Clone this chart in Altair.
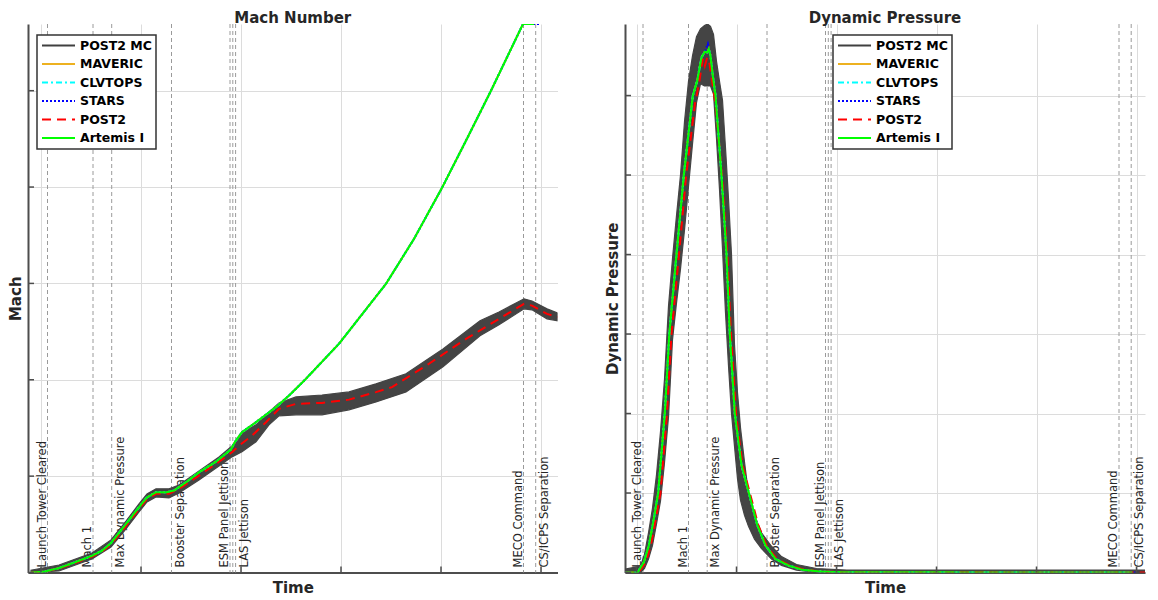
import altair as alt
import pandas as pd

FONT = "DejaVu Sans"
INK = "#262626"
AXIS_COL = "#4d4d4d"
GRID_COL = "#dcdcdc"
EVENT_COL = "#9a9a9a"
MC_COL = "#444444"

# ---------------- legend series ----------------
SERIES = ["POST2 MC", "MAVERIC", "CLVTOPS", "STARS", "POST2", "Artemis I"]
SERIES_COLORS = ["#404040", "#EDB120", "#00FFFF", "#0000FF", "#FF0000", "#00FF00"]
SERIES_DASH = [[1, 0], [1, 0], [6, 3, 2, 3], [2, 2], [9, 6], [1, 0]]
SERIES_WIDTH = [2, 2, 2, 2, 2.5, 2.5]

# ---------------- events ----------------
EVENT_NAMES = ["Launch Tower Cleared", "Mach 1", "Max Dynamic Pressure", "Booster Separation",
               "ESM Panel Jettison", "", "LAS Jettison", "MECO Command", "CS/ICPS Separation"]
EVENT_T = [6.5, 52, 70.7, 130.5, 189, 191.8, 194.6, 482.5, 494.7]
LABELS_LEFT = ["Launch Tower Cleared", "Mach 1", "ESM Panel Jettison", "MECO Command"]
LABELS_RIGHT = ["Max Dynamic Pressure", "Booster Separation", "LAS Jettison", "CS/ICPS Separation"]

X_GRID = [0, 100, 200, 300, 400, 500]

# ---------------- Mach number ----------------
MACH_Y_GRID = [0, 5, 10, 15, 20, 25]
MACH_ART_T = [-10, 3, 18, 38, 51, 61, 70, 85, 98, 106, 115, 125, 133, 145, 158, 175, 190, 194, 201, 215,
              235, 248, 264, 298, 345, 373, 401, 426, 450, 482, 493]
MACH_ART = [0.0, 0.04, 0.23, 0.61, 0.87, 1.13, 1.53, 2.52, 3.39, 3.90, 4.16, 4.16, 4.25, 4.68, 5.20, 5.75,
            6.39, 6.78, 7.28, 7.80, 8.58, 9.18, 10.0, 11.87, 14.98, 17.31, 19.96, 22.51, 25.0, 28.46, 28.46]
MACH_STARS_T = [-10, 3, 18, 38, 51, 61, 70, 85, 98, 106, 115, 125, 133, 145, 158, 175, 190, 194, 201, 215,
                235, 248, 264, 298, 345, 373, 401, 426, 450, 482, 498]
MACH_STARS = [0.0, 0.04, 0.23, 0.61, 0.87, 1.13, 1.53, 2.52, 3.39, 3.90, 4.16, 4.16, 4.25, 4.68, 5.20, 5.75,
              6.39, 6.78, 7.28, 7.80, 8.58, 9.18, 10.0, 11.87, 14.98, 17.31, 19.96, 22.51, 25.0, 28.46, 28.46]
MACH_POST2_T = [-10, 3, 18, 38, 51, 61, 70, 85, 98, 106, 115, 128, 138, 158, 178, 191, 198, 211, 225, 238,
                255, 281, 308, 335, 351, 388, 425, 458, 483, 491, 506, 516.5]
MACH_POST2 = [0.01, 0.04, 0.21, 0.57, 0.83, 1.09, 1.45, 2.41, 3.30, 3.82, 4.08, 4.08, 4.34, 5.03, 5.75, 6.24,
              6.58, 7.10, 7.80, 8.49, 8.75, 8.80, 8.97, 9.36, 9.62, 10.83, 12.12, 13.16, 13.94, 13.85, 13.42, 13.25]
MACH_MC_T = [-10, 18, 51, 70, 85, 98, 106, 115, 128, 138, 158, 178, 191, 201, 215, 228, 238, 255, 281, 308,
             335, 365, 402, 439, 458, 483, 491, 506, 516.5]
MACH_MC_LO = [0.0, 0.08, 0.70, 1.32, 2.26, 3.14, 3.66, 3.92, 3.87, 4.13, 4.80, 5.53, 6.00, 6.26, 6.78, 7.66,
              8.13, 8.18, 8.18, 8.44, 8.85, 9.37, 10.67, 12.28, 12.85, 13.68, 13.63, 13.16, 13.06]
MACH_MC_HI = [0.12, 0.39, 1.01, 1.69, 2.67, 3.56, 4.08, 4.34, 4.34, 4.54, 5.27, 5.99, 6.57, 7.24, 7.66, 8.33,
              8.80, 9.11, 9.21, 9.37, 9.79, 10.31, 11.60, 13.06, 13.52, 14.20, 14.09, 13.68, 13.47]

# ---------------- Dynamic pressure ----------------
Q_Y_GRID = [0, 100, 200, 300, 400, 500, 600]
Q_ART_T = [-11, 1, 7.3, 12.3, 17.3, 21.7, 28.3, 32.8, 40, 47.3, 56.3, 60.7, 65, 68.3, 70.7, 72.3, 74, 76.3, 79, 85,
           90, 93.3, 98.3, 105, 113, 120.7, 129, 139, 152.3, 165.7, 185.7, 212.3, 495.7]
Q_ART = [0, 0, 12.8, 33.7, 67.3, 100.4, 200.3, 300, 400.3, 500, 599.8, 618.6, 648.1, 655.1, 654.3, 658.5, 650.1,
         624.9, 599.8, 500, 400.3, 300, 200, 135, 97, 60, 34, 17, 8.6, 3.5, 1.0, 0.25, 0]
Q_STARS_T = [-11, 1, 7.3, 12.3, 17.3, 21.7, 28.3, 32.8, 40, 47.3, 56.3, 60.7, 65, 68.3, 71.3, 72.3, 74, 76.3, 79, 85,
             90, 93.3, 98.3, 105, 113, 120.7, 129, 139, 152.3, 165.7, 185.7, 212.3, 499]
Q_STARS = [0, 0, 12.8, 33.7, 67.3, 100.4, 200.3, 300, 400.3, 500, 599.8, 618.6, 648.1, 655.1, 665, 658.5, 650.1,
           624.9, 599.8, 500, 400.3, 300, 200, 135, 97, 60, 34, 17, 8.6, 3.5, 1.0, 0.25, 0]
Q_POST2_T = [-11, 2, 9.3, 14.3, 19.3, 24, 30.5, 35, 42.5, 49.7, 58.5, 62.5, 66.3, 68.3, 70.7, 73, 76, 79.5, 86, 91,
             94.5, 99.5, 106, 114, 121.7, 130, 140, 153, 167, 187, 213, 518]
Q_POST2 = [0, 0, 12.8, 33.7, 67.3, 100, 200, 300, 400, 500, 590, 615, 646, 637, 648, 640, 615, 585, 490, 395,
           300, 200, 135, 97, 60, 34, 17.5, 9, 3.7, 1.1, 0.3, 0]
Q_MC_T = [-12, 4, 8, 12, 16, 20, 24, 28, 32, 36, 40, 44, 48, 52, 56, 60, 64, 68, 71, 74,
          77, 80, 83, 86, 89, 92, 95, 98, 101, 104, 108, 112, 118, 125, 135, 145, 160, 180, 210, 518]
Q_MC_HI = [4, 8, 23, 50, 81, 123, 177, 243, 335, 395, 449, 500, 567, 618, 650, 674, 684, 688, 690, 687,
           677, 643, 618, 594, 534, 470, 400, 286, 226, 182, 139, 99, 72, 50, 33, 20, 10, 5, 3, 3]
Q_MC_LO = [0, 0, 5, 17, 34, 61, 90, 138, 196, 293, 339, 382, 431, 486, 539, 591, 615, 612, 612, 612,
           602, 546, 482, 407, 327, 260, 200, 159, 118, 91, 72, 58, 42, 30, 17, 9, 3, 0, 0, 0]

H = 548.5
DRAW_ORDER = ["MAVERIC", "CLVTOPS", "STARS", "POST2", "Artemis I"]


def series_df(parts):
    rows = []
    for name, ts, vs in parts:
        for t, v in zip(ts, vs):
            rows.append({"series": name, "t": t, "v": v})
    return pd.DataFrame(rows)


def panel(title, ytitle, lines, band, xdom, ydom, ygrid, legend_x, width):
    xs = alt.Scale(domain=xdom, nice=False, zero=False)
    ys = alt.Scale(domain=ydom, nice=False, zero=False)
    xaxis = alt.Axis(title="Time", values=X_GRID, labels=False, ticks=False, grid=True,
                     gridColor=GRID_COL, gridWidth=1, domainColor=AXIS_COL, domainWidth=2,
                     titlePadding=8, titleFont=FONT, titleFontSize=15, titleFontWeight="bold",
                     titleColor=INK, minExtent=0)
    yaxis = alt.Axis(title=ytitle, values=ygrid, labels=False, ticks=False, grid=True,
                     gridColor=GRID_COL, gridWidth=1, domainColor=AXIS_COL, domainWidth=2,
                     titlePadding=4.5, titleFont=FONT, titleFontSize=15, titleFontWeight="bold",
                     titleColor=INK, minExtent=0)

    def X(f):
        return alt.X(f, type="quantitative", scale=xs, axis=xaxis)

    def Y(f):
        return alt.Y(f, type="quantitative", scale=ys, axis=yaxis)

    ev = pd.DataFrame({"name": EVENT_NAMES, "t": EVENT_T})
    rules = alt.Chart(ev).mark_rule(color=EVENT_COL, strokeWidth=1, strokeDash=[4, 3]).encode(x=X("t"))
    ydat = alt.YDatum(0, scale=ys, axis=yaxis)
    lab_l = alt.Chart(ev[ev["name"].isin(LABELS_LEFT)]).mark_text(
        angle=270, align="left", baseline="bottom", dx=5, font=FONT, fontSize=11.5, color=INK
    ).encode(x=X("t"), y=ydat, text="name:N")
    lab_r = alt.Chart(ev[ev["name"].isin(LABELS_RIGHT)]).mark_text(
        angle=270, align="left", baseline="top", dx=5, dy=3, font=FONT, fontSize=11.5, color=INK
    ).encode(x=X("t"), y=ydat, text="name:N")

    band_layer = alt.Chart(band).mark_area(fill=MC_COL, stroke=MC_COL, strokeWidth=1.2, clip=True).encode(
        x=X("t"), y=Y("lo"), y2=alt.Y2("hi"))

    leg = alt.Legend(title=None, orient="none", legendX=legend_x, legendY=11,
                     symbolType="M-1,0H5", symbolSize=121, symbolStrokeWidth=2,
                     labelFont=FONT, labelFontSize=12.5, labelFontWeight="bold", labelColor="black",
                     labelOffset=26, padding=4, rowPadding=5.5, strokeColor="#333333",
                     fillColor="white", cornerRadius=0, labelLimit=0)
    line_layers = []
    for name in DRAW_ORDER:
        line_layers.append(
            alt.Chart(lines[lines["series"] == name]).mark_line(clip=True).encode(
                x=X("t"), y=Y("v"),
                color=alt.Color("series:N", scale=alt.Scale(domain=SERIES, range=SERIES_COLORS), legend=leg),
                strokeDash=alt.StrokeDash("series:N", scale=alt.Scale(domain=SERIES, range=SERIES_DASH), legend=leg),
                strokeWidth=alt.StrokeWidth("series:N", scale=alt.Scale(domain=SERIES, range=SERIES_WIDTH), legend=None),
            )
        )

    xt = alt.Chart(pd.DataFrame({"t": X_GRID})).mark_rule(color=AXIS_COL, strokeWidth=1.5).encode(
        x=X("t"), y=alt.value(H), y2=alt.value(H - 6))
    yt = alt.Chart(pd.DataFrame({"v": ygrid})).mark_rule(color=AXIS_COL, strokeWidth=1.5).encode(
        y=Y("v"), x=alt.value(0), x2=alt.value(6))

    return alt.layer(rules, lab_l, lab_r, band_layer, *line_layers, xt, yt).properties(
        width=width, height=H,
        title=alt.TitleParams(title, font=FONT, fontSize=15, fontWeight="bold", color=INK,
                              anchor="middle", frame="group", offset=-2.5))


mach_lines = series_df([
    ("MAVERIC", MACH_ART_T, MACH_ART),
    ("CLVTOPS", MACH_ART_T, MACH_ART),
    ("STARS", MACH_STARS_T, MACH_STARS),
    ("POST2", MACH_POST2_T, MACH_POST2),
    ("Artemis I", MACH_ART_T, MACH_ART),
])
mach_band = pd.DataFrame({"t": MACH_MC_T, "lo": MACH_MC_LO, "hi": MACH_MC_HI})

q_lines = series_df([
    ("MAVERIC", Q_ART_T, Q_ART),
    ("CLVTOPS", Q_ART_T, Q_ART),
    ("STARS", Q_STARS_T, Q_STARS),
    ("POST2", Q_POST2_T, Q_POST2),
    ("Artemis I", Q_ART_T, Q_ART),
])
q_band = pd.DataFrame({"t": Q_MC_T, "lo": Q_MC_LO, "hi": Q_MC_HI})

left = panel("Mach Number", "Mach", mach_lines, mach_band, [-13, 516.5], [0, 28.46], MACH_Y_GRID, 9, 529.5)
right = panel("Dynamic Pressure", "Dynamic Pressure", q_lines, q_band, [-11.5, 508.5], [0, 690], Q_Y_GRID, 208, 520)

chart = alt.hconcat(left, right, spacing=47).resolve_scale(
    x="independent", y="independent", color="independent",
    strokeDash="independent", strokeWidth="independent"
).resolve_legend(
    color="independent", strokeDash="independent"
).configure_view(
    stroke="transparent"
).configure_legend(
    strokeWidth=1.5
).properties(
    padding={"left": 0, "top": 2, "right": 0, "bottom": 0}
)

chart.save("out.html", embed_options={"renderer": "svg", "actions": False})
